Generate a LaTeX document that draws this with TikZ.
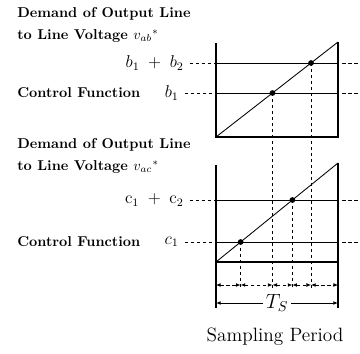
\documentclass[tikz,border=0pt]{standalone}
\usepackage{amsmath}
\usetikzlibrary{arrows.meta}

\begin{document}
\begin{tikzpicture}[x=0.7pt,y=-0.7pt,
  frame/.style={line width=1.1pt},
  level/.style={line width=0.6pt},
  guide/.style={line width=0.6pt,dash pattern=on 2.4pt off 1.8pt},
  dotmark/.style={circle,fill,inner sep=0pt,minimum size=4pt},
  dim/.style={{Latex[length=3.2pt,width=2.6pt]}-{Latex[length=3.2pt,width=2.6pt]},line width=0.5pt},
  lbl/.style={font=\bfseries,anchor=west,inner sep=0pt,align=left},
  val/.style={font=\large,anchor=east,inner sep=0pt}]
\useasboundingbox (0,0) rectangle (360,354);

% upper ramp (v_ab*)
\coordinate (a0) at (216,137);
\coordinate (a1) at (338,42);
\draw[frame] (216,43) -- (a0) -- (338,137) -- (a1);
\draw[level] (a0) -- (a1);
\path (a0) -- (a1) coordinate[pos=0.779] (b2) coordinate[pos=0.463] (b1);

% lower ramp (v_ac*)
\coordinate (c0) at (216,262);
\coordinate (c1) at (338,163);
\draw[frame] (216,165) -- (c0) -- (338,262) -- (c1);
\draw[frame] (c0) -- (216,308);
\draw[frame] (338,262) -- (338,308);
\draw[level] (c0) -- (c1);
\path (c0) -- (c1) coordinate[pos=0.626] (c2) coordinate[pos=0.202] (c1p);

% texts
\node[lbl] (dab) at (17,25) {Demand of Output Line\\[3pt]to Line Voltage $v_{ab}{}^{*}$};
\node[val] (vb2) at (184,63) {$b_1\;+\;b_2$};
\node[lbl] (cfb) at (17,93) {Control Function};
\node[val] (vb1) at (179,93) {$b_1$};
\node[lbl] (dac) at (17,156) {Demand of Output Line\\[3pt]to Line Voltage $v_{ac}{}^{*}$};
\node[val] (vc2) at (184,200) {$\mathrm{c}_1\;+\;\mathrm{c}_2$};
\node[lbl] (cfc) at (17,242) {Control Function};
\node[val] (vc1) at (179,242) {$c_1$};

% levels
\foreach \p/\q in {b2/vb2,b1/vb1,c2/vc2,c1p/vc1}{
  \draw[level] (\p -| a0) -- (\p -| a1);
  \draw[guide] ([xshift=4pt]\q.east |- \p) -- (\p -| a0);
  \draw[guide] ([xshift=3pt]\p -| a1) -- (360,0 |- \p);
  \node[dotmark] at (\p) {};
}

% drop lines to the time axis
\foreach \p in {b2,b1,c2,c1p}
  \draw[guide] (\p) -- (\p |- 0,290);

% time intervals
\coordinate (t0) at (216,285);
\coordinate (t5) at (338,285);
\draw[guide,dim] (t0) -- (c1p |- t0);
\draw[guide,dim] (c1p |- t0) -- (b1 |- t0);
\draw[guide,dim] (b1 |- t0) -- (c2 |- t0);
\draw[guide,dim] (c2 |- t0) -- (b2 |- t0);
\draw[guide,dim] (b2 |- t0) -- (t5);

% sampling period
\draw[dim,line width=0.6pt] (216,303) -- node[fill=white,inner sep=2pt,font=\Large] (ts) {$T_S$} (338,303);
\node[font=\fontsize{13.5}{16}\selectfont] (sp) at (275,337) {Sampling Period};
\end{tikzpicture}
\end{document}
